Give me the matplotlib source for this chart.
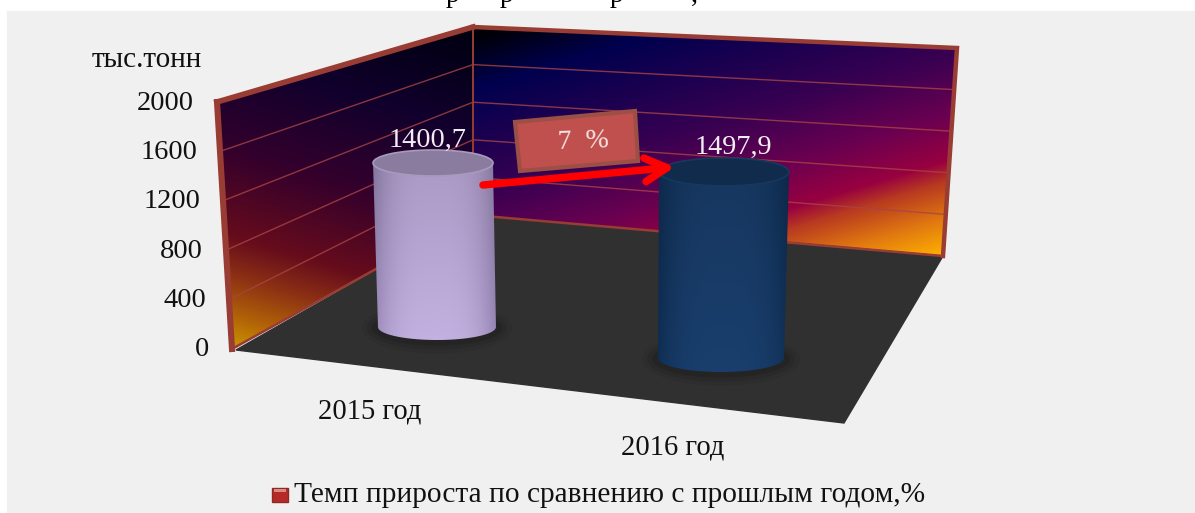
import numpy as np
import matplotlib
matplotlib.use("Agg")
import matplotlib.pyplot as plt
from matplotlib.colors import LinearSegmentedColormap
from matplotlib.patches import Polygon, Rectangle, Ellipse

# data
years = ["2015 год", "2016 год"]
values = [1400.7, 1497.9]
value_labels = ["1400,7", "1497,9"]
y_ticks = [0, 400, 800, 1200, 1600, 2000]
unit_label = "тыс.тонн"
legend_label = "Темп прироста по сравнению с прошлым годом,%"
growth_label = "7  %"

# box corners in image pixels
back_bottom_left = (473, 215)
back_top_left = (473, 27)
back_bottom_right = (943, 256)
back_top_right = (957, 48)
left_bottom = (232, 349)
left_top = (217, 102)
floor_front_right = (844, 423)
floor_front_left = (236, 350)
y_max = y_ticks[-1]

plt.rcParams['font.family'] = ['Liberation Serif', 'DejaVu Serif']

fig = plt.figure(figsize=(11.95, 5.13), dpi=100)
ax = fig.add_axes([0, 0, 1, 1])
ax.set_xlim(0, 1195)
ax.set_ylim(513, 0)
ax.axis("off")

ax.add_patch(Rectangle((7, 11), 1190, 504, color="#f0f0f0", zorder=0))

# cropped title, only the descenders are left in the picture
for x, ch in [(453, "р"), (507, "р"), (617, "р"), (694, ",")]:
    ax.text(x, 2, ch, fontsize=20, ha="center", va="baseline", color="black", clip_on=True)

back_cmap = LinearSegmentedColormap.from_list("back", [
    (0.0, "#000008"), (0.14, "#00004e"), (0.45, "#3a0052"), (0.62, "#6c0050"),
    (0.74, "#980040"), (0.80, "#b83a20"), (0.90, "#e07810"), (1.0, "#ffb000")])
left_cmap = LinearSegmentedColormap.from_list("left", [
    (0.0, "#000010"), (0.25, "#10002c"), (0.5, "#34002c"), (0.72, "#660c1c"),
    (0.82, "#8c3014"), (0.92, "#b06008"), (1.0, "#c89000")])


def wall_gradient(corners, cmap, wx, wy, v0, v1):
    xx, yy = np.meshgrid(np.arange(150, 1000), np.arange(0, 430))
    t = np.clip((wx * xx + wy * yy - v0) / (v1 - v0), 0, 1)
    im = ax.imshow(t, cmap=cmap, extent=(150, 1000, 430, 0), vmin=0, vmax=1, zorder=1, aspect="auto")
    clip = Polygon(corners, closed=True, transform=ax.transData)
    im.set_clip_path(clip)
    ax.set_xlim(0, 1195)
    ax.set_ylim(513, 0)


wall_gradient([left_bottom, left_top, back_top_left, back_bottom_left], left_cmap, -0.3, 1.0, -112, 275)
wall_gradient([back_bottom_left, back_top_left, back_top_right, back_bottom_right], back_cmap, 0.29, 0.96, 173, 518)

# floor
ax.add_patch(Polygon([back_bottom_left, back_bottom_right, floor_front_right, floor_front_left],
                     closed=True, color="#303030", zorder=2))


def wall_point(bottom, top, value):
    f = value / y_max
    return bottom[0] + (top[0] - bottom[0]) * f, bottom[1] + (top[1] - bottom[1]) * f


# grid lines and tick labels
for tick in y_ticks:
    p0 = wall_point(left_bottom, left_top, tick)
    p1 = wall_point(back_bottom_left, back_top_left, tick)
    p2 = wall_point(back_bottom_right, back_top_right, tick)
    if 0 < tick < y_max:
        ax.plot([p0[0], p1[0], p2[0]], [p0[1], p1[1], p2[1]], color="#a84444", lw=1.0, alpha=0.8, zorder=3)
    ax.text(p0[0] - 23, p0[1] + 1, str(tick), fontsize=20.5, ha="right", va="center", color="#111111", zorder=10)

# frame of the walls
frame = "#983c34"
ax.plot([back_top_left[0], back_top_right[0], back_bottom_right[0]],
        [back_top_left[1], back_top_right[1], back_bottom_right[1]],
        color=frame, lw=3.2, solid_joinstyle="miter", zorder=4)
ax.plot([left_top[0], back_top_left[0]], [left_top[1], back_top_left[1]], color=frame, lw=4, zorder=4)
ax.plot([left_bottom[0], left_top[0]], [left_bottom[1], left_top[1]], color=frame, lw=4.4,
        solid_capstyle="projecting", zorder=4)
ax.plot([back_top_left[0], back_bottom_left[0]], [back_top_left[1], back_bottom_left[1]], color=frame, lw=1.4, zorder=4)
ax.plot([left_bottom[0], back_bottom_left[0], back_bottom_right[0]],
        [left_bottom[1], back_bottom_left[1], back_bottom_right[1]], color=frame, lw=1.8, zorder=4)

ax.text(147, 60, unit_label, fontsize=21, ha="center", va="center", color="#111111", zorder=10)

# cylinders, positions on the floor and height scale of each one
base_x = [437, 721]
base_y = [327, 358]
base_half_w = [59, 63]
top_half_w = [60, 65]
top_lean = [-4, 3]
px_per_unit = [0.1171, 0.1242]
ell_h = [13, 14]
label_dx = [-5, 9]
label_dy = [-23, -25]
body_edge = [np.array([0x90, 0x80, 0xac]), np.array([0x0e, 0x2c, 0x50])]
body_mid = [np.array([0xbd, 0xab, 0xda]), np.array([0x19, 0x3d, 0x6a])]
top_color = ["#8a7c9e", "#102b4b"]
rim_color = ["#a899bd", "#17385e"]

for i, value in enumerate(values):
    bx, by = base_x[i], base_y[i]
    tx, ty = bx + top_lean[i], by - value * px_per_unit[i]
    h = ell_h[i]

    # soft shadow on the floor
    for grow, a in [(16, 0.08), (11, 0.14), (6, 0.22)]:
        ax.add_patch(Ellipse((bx, by + 1), 2 * (base_half_w[i] + grow), 2 * (h + grow * 0.8),
                             color="#141414", alpha=a, lw=0, zorder=5))

    th = np.linspace(np.pi, 0, 60)
    outline = [(bx + base_half_w[i] * np.cos(a), by + h * np.sin(a)) for a in th]
    outline += [(tx + top_half_w[i], ty), (tx - top_half_w[i], ty)]

    x0 = int(min(tx - top_half_w[i], bx - base_half_w[i])) - 1
    x1 = int(max(tx + top_half_w[i], bx + base_half_w[i])) + 1
    s = np.linspace(-1, 1, x1 - x0)
    shade = (1 - np.abs(s) ** 3.2)[:, None]
    rows = np.linspace(0.9, 1.03, 40)
    img = np.zeros((40, x1 - x0, 3))
    for r in range(40):
        img[r] = np.clip((body_edge[i] + (body_mid[i] - body_edge[i]) * shade) * rows[r] / 255, 0, 1)
    im = ax.imshow(img, extent=(x0, x1, by + h, ty), zorder=6, aspect="auto")
    im.set_clip_path(Polygon(outline, closed=True, transform=ax.transData))
    ax.set_xlim(0, 1195)
    ax.set_ylim(513, 0)

    ax.add_patch(Ellipse((tx, ty), 2 * top_half_w[i], 2 * h, facecolor=top_color[i],
                         edgecolor=rim_color[i], lw=1.2, zorder=7))
    ax.text(tx + label_dx[i], ty + label_dy[i], value_labels[i], fontsize=20.3, ha="center", va="center",
            color="#f2ecf4", zorder=8)

# growth box and arrow
ax.add_patch(Polygon([(515, 122), (635, 111), (638, 161), (520, 171)], closed=True,
                     facecolor="#c0504d", edgecolor="#9c4f45", lw=3, zorder=8))
ax.text(583, 142, growth_label, fontsize=20, ha="center", va="center", color="#f6e6e4", rotation=2, zorder=9)
ax.annotate("", xy=(675, 167), xytext=(483, 185), zorder=9,
            arrowprops=dict(arrowstyle="->,head_length=1.6,head_width=0.85", color="#ff0000", lw=5.4,
                            shrinkA=0, shrinkB=0))

# category labels
ax.text(370, 412, years[0], fontsize=20.6, ha="center", va="center", color="#111111")
ax.text(673, 448, years[1], fontsize=20.6, ha="center", va="center", color="#111111")

# legend
ax.add_patch(Rectangle((272, 488), 16, 14, facecolor="#b52a28", edgecolor="#8c2a26", lw=1, zorder=5))
ax.add_patch(Rectangle((274, 489), 12, 3, facecolor="#d98a80", lw=0, zorder=6))
ax.text(294, 495, legend_label, fontsize=21.2, ha="left", va="center", color="#111111")

fig.savefig("out.png", dpi=100)
